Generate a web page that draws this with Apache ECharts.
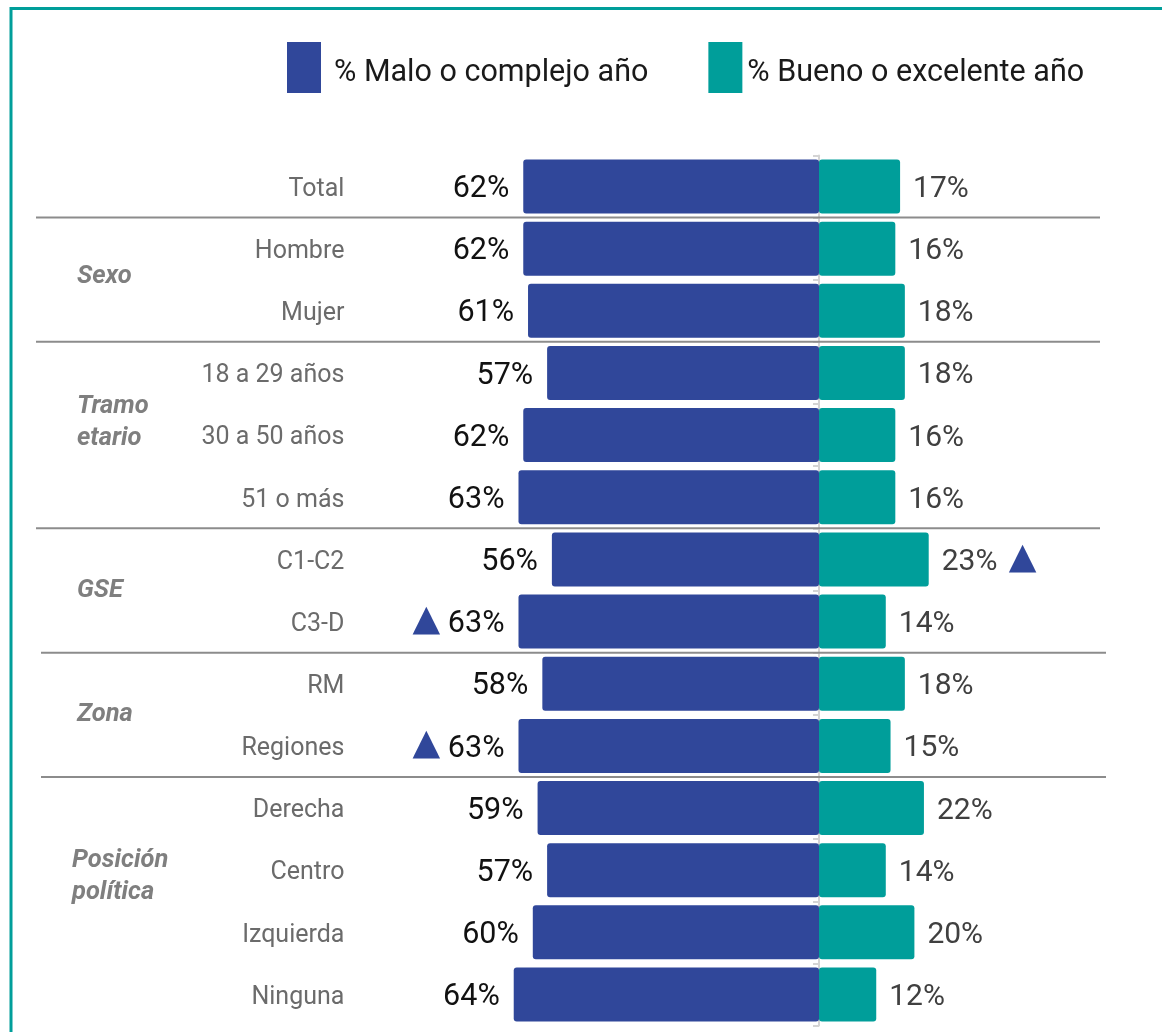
<!DOCTYPE html>
<html>
<head>
<meta charset="utf-8">
<script src="https://cdn.jsdelivr.net/npm/echarts@6/dist/echarts.min.js"></script>
<style>
html,body{margin:0;padding:0;background:#fff;}
#chart{width:1162px;height:1032px;}
</style>
</head>
<body>
<div id="chart"></div>
<script>
// ---- data ----
const categories = ['Total','Hombre','Mujer','18 a 29 años','30 a 50 años','51 o más','C1-C2','C3-D','RM','Regiones','Derecha','Centro','Izquierda','Ninguna'];
const seriesNames = ['% Malo o complejo año','% Bueno o excelente año'];
const malo  = [62,62,61,57,62,63,56,63,58,63,59,57,60,64];
const bueno = [17,16,18,18,16,16,23,14,18,15,22,14,20,12];
const maloSig  = [0,0,0,0,0,0,0,1,0,1,0,0,0,0];
const buenoSig = [0,0,0,0,0,0,1,0,0,0,0,0,0,0];
const groupNames = ['Sexo','Tramo\netario','GSE','Zona','Posición\npolítica'];
const groupRows  = [[1,2],[3,5],[6,7],[8,9],[10,13]];

// ---- style ----
const BLUE = '#30479a', TEAL = '#009e9a', FONT = 'Roboto';
const chart = echarts.init(document.getElementById('chart'));

const option = {
  animation: false,
  backgroundColor: '#fff',
  legend: {
    left: 282, top: 37, itemWidth: 34, itemHeight: 51, itemGap: 60, icon: 'rect',
    data: seriesNames,
    formatter: name => (name === seriesNames[0] ? '{a|' : '{b|') + name + '}',
    textStyle: {
      fontSize: 30.5, color: '#1a1a1a', fontFamily: FONT,
      rich: {
        a: {fontSize: 30.5, color: '#1a1a1a', fontFamily: FONT, padding: [12,0,0,8]},
        b: {fontSize: 30.5, color: '#1a1a1a', fontFamily: FONT, padding: [12,0,0,0]}
      }
    }
  },
  grid: {left: 437.4, width: 572.4, top: 155.4, height: 870.2},
  xAxis: {type: 'value', min: -80, max: 40, show: false, splitLine: {show: false}},
  yAxis: [
    {
      type: 'category', data: categories, inverse: true, position: 'left',
      axisLine: {show: false, onZero: false}, axisTick: {show: false},
      axisLabel: {
        margin: 93,
        formatter: v => '{c|' + v + '}',
        rich: {c: {fontSize: 25, color: '#6b6b6b', fontFamily: FONT, padding: [6,0,0,0]}}
      }
    },
    {
      type: 'category', data: categories, inverse: true, position: 'right',
      axisLine: {show: true, onZero: true, onZeroAxisIndex: 0, lineStyle: {color: '#d4d4d4', width: 2}},
      axisTick: {show: true, inside: true, length: 6, lineStyle: {color: '#d4d4d4', width: 2}},
      axisLabel: {show: false}
    }
  ],
  series: [
    {
      name: seriesNames[0], type: 'bar', stack: 'all', barWidth: 54,
      data: malo.map(v => -v),
      itemStyle: {color: BLUE, borderRadius: 3},
      label: {
        show: true, position: 'left', distance: 14,
        fontSize: 30.5, color: '#111', fontFamily: FONT, padding: [6,0,0,0],
        formatter: p => (maloSig[p.dataIndex] ? '{tri|▲} ' : '') + malo[p.dataIndex] + '%',
        rich: {tri: {fontFamily: 'DejaVu Sans', fontSize: 36, color: BLUE, padding: [0,0,8,0]}}
      }
    },
    {
      name: seriesNames[1], type: 'bar', stack: 'all', barWidth: 54,
      data: bueno,
      itemStyle: {color: TEAL, borderRadius: 3},
      label: {
        show: true, position: 'right', distance: 13,
        fontSize: 30, color: '#404040', fontFamily: FONT, padding: [6,0,0,0],
        formatter: p => bueno[p.dataIndex] + '%' + (buenoSig[p.dataIndex] ? ' {tri|▲}' : ''),
        rich: {tri: {fontFamily: 'DejaVu Sans', fontSize: 36, color: BLUE, padding: [0,0,8,4]}}
      }
    }
  ]
};
chart.setOption(option);

// ---- decorations positioned through the category scale ----
function rowY(i){ return chart.convertToPixel({yAxisIndex: 0}, categories[i]); }
function boundaryY(i){ return (rowY(i) + rowY(i+1)) / 2; }
const sepX = [[36,1100],[36,1100],[36,1100],[41,1106],[41,1106]];
const labelRowPos = [1.45, 3.8, 6.5, 8.5, 11.1];
const labelX = [77,77,77,77,72];
const graphics = [];
graphics.push({type:'rect', z: 100, shape:{x:11, y:8.5, width:1180, height:1060},
  style:{fill:'none', stroke: TEAL, lineWidth: 3}});
groupRows.forEach((r, gi) => {
  const y = boundaryY(r[0]-1);
  graphics.push({type:'line', z: 50, shape:{x1: sepX[gi][0], y1: y, x2: sepX[gi][1], y2: y},
    style:{stroke:'#8c8c8c', lineWidth: 2}});
  const pos = labelRowPos[gi];
  const i0 = Math.floor(pos), f = pos - i0;
  const ly = rowY(i0) + (rowY(Math.min(i0+1, categories.length-1)) - rowY(i0)) * f;
  graphics.push({type:'text', z: 50, x: labelX[gi], y: ly,
    style:{text: groupNames[gi], fontFamily: FONT, fontSize: 25.5, fontWeight: 'bold', fontStyle: 'italic',
      fill: '#7f7f7f', verticalAlign: 'middle', align: 'left', lineHeight: 32}});
});
chart.setOption({graphic: graphics});
</script>
</body>
</html>
